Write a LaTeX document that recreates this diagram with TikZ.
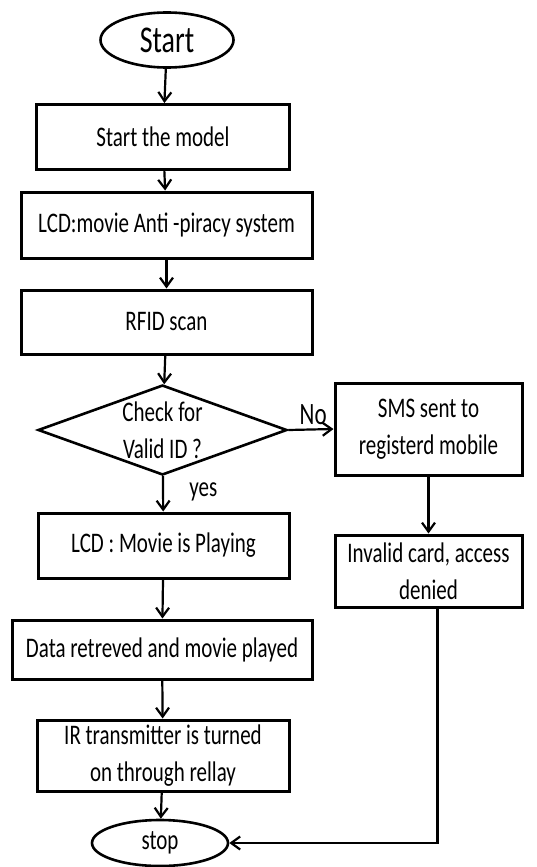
\documentclass[tikz,border=0pt]{standalone}
\usepackage{fontspec}
\setmainfont{Carlito}
\usepackage{graphicx}
\usetikzlibrary{shapes.geometric, arrows.meta}

% glyphs in the figure are drawn taller than wide
\newcommand{\tall}[1]{\scalebox{1}[1.35]{#1}}

\begin{document}
\begin{tikzpicture}[x=1pt, y=-1pt, >={Straight Barb[length=9pt,width=13pt]}, line width=2.2pt,
	block/.style={draw, rectangle, line width=3pt, inner sep=0pt, align=center, font=\fontsize{21}{37}\selectfont},
	term/.style={draw, ellipse, line width=2.6pt, inner sep=0pt},
	decision/.style={draw, diamond, line width=2.6pt, inner sep=0pt, minimum width=249pt, minimum height=90pt},
	lbl/.style={font=\fontsize{21}{37}\selectfont, align=center}]
	\useasboundingbox (0,0) rectangle (536,867);

	% 1. main column
	\node[term, minimum width=133pt, minimum height=55pt, font=\fontsize{28}{30}\selectfont] (start) at (167,40) {\tall{Start}};
	\node[block, minimum width=253pt, minimum height=65pt] (model) at (163,137) {\tall{Start the model}};
	\node[block, minimum width=291pt, minimum height=66pt] (lcd) at (166.5,225) {\tall{LCD:movie Anti -piracy system}};
	\node[block, minimum width=291pt, minimum height=64pt] (rfid) at (166.5,322) {\tall{RFID scan}};
	\node[decision, label={[lbl]center:\tall{Check for}\\\tall{Valid ID ?}}] (check) at (162.5,430) {};
	\node[block, minimum width=251pt, minimum height=65pt] (play) at (163.5,545.5) {\tall{LCD : Movie is Playing}};
	\node[block, minimum width=300pt, minimum height=59pt] (data) at (162,649.5) {\tall{Data retreved and movie played}};
	\node[block, minimum width=252pt, minimum height=71pt] (relay) at (163,755.5) {\tall{IR transmitter is turned}\\\tall{on through rellay}};
	\node[term, minimum width=136pt, minimum height=46pt, font=\fontsize{21}{24}\selectfont] (stop) at (160,843) {\tall{stop}};

	% 2. invalid branch
	\node[block, minimum width=187pt, minimum height=92pt] (sms) at (428.5,429) {\tall{SMS sent to}\\\tall{registerd mobile}};
	\node[block, minimum width=187pt, minimum height=72pt] (invalid) at (428.5,571) {\tall{Invalid card, access}\\\tall{denied}};

	% 3. connectors
	\draw[->] (start) -- (model);
	\draw[->] (model) -- (lcd);
	\draw[->] (lcd) -- (rfid);
	\draw[->] (rfid) -- (check);
	\draw[->] (check) -- (play) node[lbl, pos=0.45, right, xshift=22pt] {\tall{yes}};
	\draw[->] (check.east) -- (sms.west) node[lbl, pos=0.55, above, font=\fontsize{23}{25}\selectfont] {\tall{No}};
	\draw[->] (play) -- (data);
	\draw[->] (data) -- (relay);
	\draw[->] (relay) -- (stop);
	\draw[->] (sms) -- (invalid);
	\draw[->] ([xshift=9pt]invalid.south) |- (stop.east);
\end{tikzpicture}
\end{document}
